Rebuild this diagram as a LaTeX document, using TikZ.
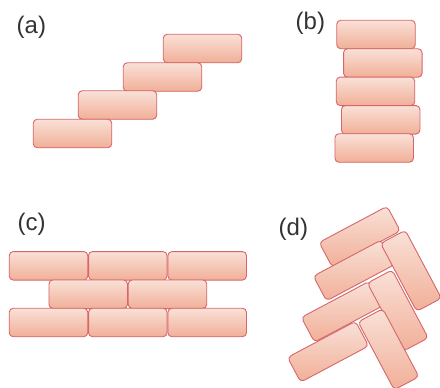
\documentclass[tikz,border=0pt]{standalone}
\usepackage{fontspec}
\setmainfont{Liberation Sans}
\definecolor{bricktop}{HTML}{F9E1D7}
\definecolor{brickbot}{HTML}{F1AF98}
\definecolor{brickline}{HTML}{D6666A}
\definecolor{labelgray}{HTML}{333333}
\begin{document}
\begin{tikzpicture}[x=1pt,y=-1pt,
  brick/.style={draw=brickline, line width=0.9pt, rounded corners=4pt,
    top color=bricktop, bottom color=brickbot,
    minimum width=78.5pt, minimum height=28.5pt, inner sep=0pt, outer sep=0pt},
  dbrick/.style={brick, minimum width=77pt, minimum height=28pt},
  panellabel/.style={font=\fontsize{24}{28}\selectfont, text=labelgray,
    anchor=base west, inner sep=0pt}]
\useasboundingbox (0,0) rectangle (440,388);
% (a) staircase
\node[panellabel] (la) at (16.5,33.8) {(a)};
\node[brick] (a4) at (202.5,48.5) {};
\node[brick] (a3) at (162.5,77) {};
\node[brick] (a2) at (117.5,105) {};
\node[brick] (a1) at (72.5,133.5) {};
% (b) stack
\node[panellabel] (lb) at (295.5,30) {(b)};
\node[brick] (b1) at (376,34.5) {};
\node[brick] (b2) at (382.8,63) {};
\node[brick] (b3) at (375.5,91.3) {};
\node[brick] (b4) at (380.7,119.8) {};
\node[brick] (b5) at (374.2,148) {};
% (c) wall
\node[panellabel] (lc) at (17.5,230) {(c)};
\node[brick] (c11) at (48.5,265.8) {};
\node[brick] (c12) at (127.8,265.8) {};
\node[brick] (c13) at (207.2,265.8) {};
\node[brick] (c21) at (88.2,294.2) {};
\node[brick] (c22) at (167.5,294.2) {};
\node[brick] (c31) at (48.5,322.5) {};
\node[brick] (c32) at (127.8,322.5) {};
\node[brick] (c33) at (207.2,322.5) {};
% (d) herringbone
\node[panellabel] (ld) at (278.5,235) {(d)};
\node[dbrick, rotate=28] (dA) at (359.7,236.7) {};
\node[dbrick, rotate=28] (dB) at (353.9,270.4) {};
\node[dbrick, rotate=28] (dC) at (341.9,311.7) {};
\node[dbrick, rotate=28] (dD) at (328.1,351.7) {};
\node[dbrick, rotate=-62] (dE) at (411,270.8) {};
\node[dbrick, rotate=-62] (dF) at (397.8,310.5) {};
\node[dbrick, rotate=-62] (dG) at (388.5,349.3) {};
\end{tikzpicture}
\end{document}
